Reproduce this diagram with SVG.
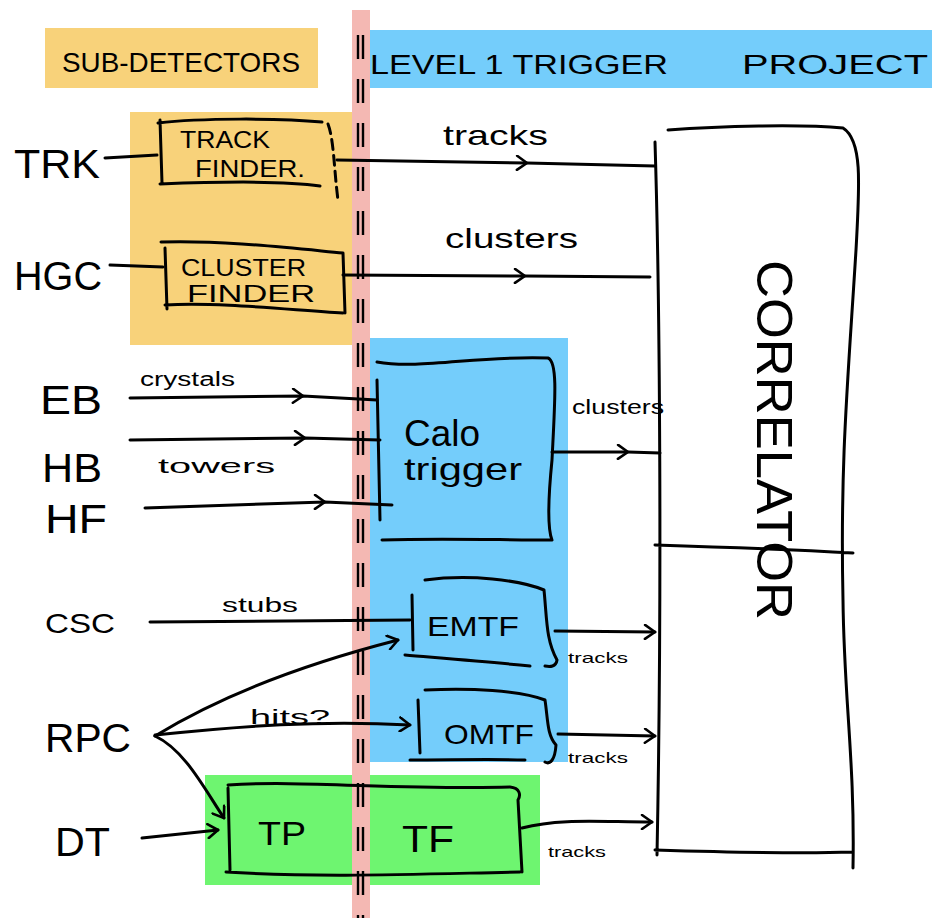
<svg xmlns="http://www.w3.org/2000/svg" width="932" height="918" viewBox="0 0 932 918">
<style>
.ink{fill:none;stroke:#000;stroke-width:3;stroke-linecap:round;stroke-linejoin:round}
.t{font-family:"Liberation Sans","DejaVu Sans",sans-serif;fill:#000}
.big{font-size:40px}
.mid{font-size:28px}
.sm{font-size:20px}
.xs{font-size:15px}
.conn{fill:none;stroke:#000;stroke-width:3;stroke-linecap:round;stroke-linejoin:round}
</style>
<defs>
<marker id="chev" viewBox="0 0 14 16" refX="12" refY="8" markerWidth="14" markerHeight="16" markerUnits="userSpaceOnUse" orient="auto">
<path d="M2,1 L12,8 L2,15" fill="none" stroke="#000" stroke-width="2.6" stroke-linecap="round" stroke-linejoin="round"/>
</marker>
</defs>
<rect width="932" height="918" fill="#fff"/>
<g id="bg">
<rect x="45" y="28" width="273" height="60" fill="#f8d27a"/>
<rect x="367" y="30" width="565" height="58" fill="#74cdfb"/>
<rect x="130" y="112" width="222" height="233" fill="#f8d27a"/>
<rect x="370" y="338" width="198" height="424" fill="#74cdfb"/>
<rect x="205" y="775" width="335" height="110" fill="#6ef570"/>
<rect x="352" y="10" width="18" height="908" fill="#f4b8b3"/>
<path d="M358,35 V918 M363,35 V918" stroke="#000" stroke-width="2.4" stroke-dasharray="24 20" fill="none"/>
</g>
<g id="headers">
<text class="t mid" x="181" y="72" text-anchor="middle" textLength="238" lengthAdjust="spacingAndGlyphs">SUB-DETECTORS</text>
<text class="t mid" x="370" y="74" textLength="298" lengthAdjust="spacingAndGlyphs">LEVEL 1 TRIGGER</text>
<text class="t mid" x="742" y="74" textLength="186" lengthAdjust="spacingAndGlyphs">PROJECT</text>
</g>
<g id="TRK"><text class="t big" x="14" y="178" textLength="86" lengthAdjust="spacingAndGlyphs">TRK</text></g>
<g id="HGC"><text class="t big" x="14" y="290" textLength="88" lengthAdjust="spacingAndGlyphs">HGC</text></g>
<g id="EB"><text class="t big" x="40" y="414" textLength="62" lengthAdjust="spacingAndGlyphs">EB</text></g>
<g id="HB"><text class="t big" x="42" y="482" textLength="60" lengthAdjust="spacingAndGlyphs">HB</text></g>
<g id="HF"><text class="t big" x="45" y="533" textLength="62" lengthAdjust="spacingAndGlyphs">HF</text></g>
<g id="CSC"><text class="t mid" x="45" y="633" textLength="70" lengthAdjust="spacingAndGlyphs">CSC</text></g>
<g id="RPC"><text class="t big" x="45" y="752" textLength="86" lengthAdjust="spacingAndGlyphs">RPC</text></g>
<g id="DT"><text class="t big" x="55" y="856" textLength="55" lengthAdjust="spacingAndGlyphs">DT</text></g>
<g id="track-finder">
<path class="ink" d="M160,120 L162,183 M158,123 C200,118 280,118 322,122 M160,184 C210,182 280,180 320,186"/>
<path class="ink" d="M328,124 C334,140 334,170 338,200" stroke-dasharray="10 6"/>
<text class="t" font-size="24" x="180" y="148" textLength="90" lengthAdjust="spacingAndGlyphs">TRACK</text>
<text class="t" font-size="24" x="195" y="177" textLength="110" lengthAdjust="spacingAndGlyphs">FINDER.</text>
</g>
<g id="cluster-finder">
<path class="ink" d="M165,248 L167,309 M161,242 C220,240 290,248 343,253 M165,305 C220,302 290,310 343,313 M343,253 L345,313"/>
<text class="t" font-size="24" x="181" y="276" textLength="125" lengthAdjust="spacingAndGlyphs">CLUSTER</text>
<text class="t" font-size="24" x="187" y="302" textLength="128" lengthAdjust="spacingAndGlyphs">FINDER</text>
</g>
<g id="correlator">
<path class="ink" d="M655,142 C660,300 662,600 657,855 M668,130 C720,126 800,124 843,128 C862,140 860,180 856,250 C848,380 840,460 843,600 C844,700 855,760 853,868 M655,545 C720,547 800,550 853,553 M655,850 C720,852 800,854 852,852"/>
<text class="t" font-size="50" x="757" y="440" text-anchor="middle" transform="rotate(90 757 440)" textLength="360" lengthAdjust="spacingAndGlyphs">CORRELATOR</text>
</g>
<g id="calo-trigger">
<path class="ink" d="M377,362 C420,370 480,355 548,358 C558,362 555,400 552,460 C548,500 548,530 552,540 M382,540 C440,538 500,540 552,540 M377,380 L380,520"/>
<text class="t" font-size="36" x="404" y="446" textLength="76" lengthAdjust="spacingAndGlyphs">Calo</text>
<text class="t" font-size="32" x="404" y="480" textLength="118" lengthAdjust="spacingAndGlyphs">trigger</text>
</g>
<g id="EMTF">
<path class="ink" d="M412,595 L413,650 M425,580 C470,574 520,580 544,590 C547,620 546,640 557,660 C556,667 550,667 545,666 M405,655 C440,658 490,662 530,666"/>
<text class="t mid" x="427" y="636" textLength="92" lengthAdjust="spacingAndGlyphs">EMTF</text>
</g>
<g id="OMTF">
<path class="ink" d="M418,700 L420,753 M425,690 C470,688 520,690 545,700 C548,720 547,735 556,745 C555,760 550,765 545,762 M410,760 C450,760 490,759 525,760"/>
<text class="t mid" x="444" y="744" textLength="90" lengthAdjust="spacingAndGlyphs">OMTF</text>
</g>
<g id="TP-TF">
<path class="ink" d="M228,785 C300,780 400,790 510,787 C520,788 521,795 518,800 L522,872 M228,788 L230,870 M226,872 C320,878 420,874 520,872"/>
<text class="t" font-size="34" x="258" y="845" textLength="48" lengthAdjust="spacingAndGlyphs">TP</text>
<text class="t" font-size="36" x="402" y="852" textLength="52" lengthAdjust="spacingAndGlyphs">TF</text>
</g>
<g id="connectors">
<path class="conn" d="M105,158 L157,155"/>
<path class="conn" d="M110,265 L163,267"/>
<path class="conn" d="M337,160 L527,163 L655,166" marker-mid="url(#chev)"/>
<path class="conn" d="M343,275 L525,276 L650,277" marker-mid="url(#chev)"/>
<path class="conn" d="M130,398 L303,396 L377,400" marker-mid="url(#chev)"/>
<path class="conn" d="M130,440 L305,438 L380,440" marker-mid="url(#chev)"/>
<path class="conn" d="M145,508 L325,502 L392,505" marker-mid="url(#chev)"/>
<path class="conn" d="M552,452 L628,452 L660,453" marker-mid="url(#chev)"/>
<path class="conn" d="M150,622 L410,620"/>
<path class="conn" d="M555,631 L655,632" marker-end="url(#chev)"/>
<path class="conn" d="M558,734 L655,736" marker-end="url(#chev)"/>
<path class="conn" d="M522,828 C560,818 600,822 652,822" marker-end="url(#chev)"/>
<path class="conn" d="M155,736 C230,690 320,660 398,640" marker-end="url(#chev)"/>
<path class="conn" d="M155,735 C240,726 320,720 410,725" marker-end="url(#chev)"/>
<path class="conn" d="M155,736 C185,750 205,790 224,818" marker-end="url(#chev)"/>
<path class="conn" d="M142,838 L218,830" marker-end="url(#chev)"/>
</g>
<g id="labels">
<text class="t mid" x="443" y="145" textLength="105" lengthAdjust="spacingAndGlyphs">tracks</text>
<text class="t mid" x="445" y="248" textLength="133" lengthAdjust="spacingAndGlyphs">clusters</text>
<text class="t sm" x="140" y="386" textLength="95" lengthAdjust="spacingAndGlyphs">crystals</text>
<text class="t sm" x="158" y="473" textLength="117" lengthAdjust="spacingAndGlyphs">towers</text>
<text class="t sm" x="222" y="612" textLength="76" lengthAdjust="spacingAndGlyphs">stubs</text>
<text class="t sm" x="250" y="724" textLength="80" lengthAdjust="spacingAndGlyphs">hits?</text>
<text class="t sm" x="572" y="414" textLength="92" lengthAdjust="spacingAndGlyphs">clusters</text>
<text class="t xs" x="568" y="663" textLength="60" lengthAdjust="spacingAndGlyphs">tracks</text>
<text class="t xs" x="568" y="763" textLength="60" lengthAdjust="spacingAndGlyphs">tracks</text>
<text class="t xs" x="548" y="857" textLength="58" lengthAdjust="spacingAndGlyphs">tracks</text>
</g>
</svg>
